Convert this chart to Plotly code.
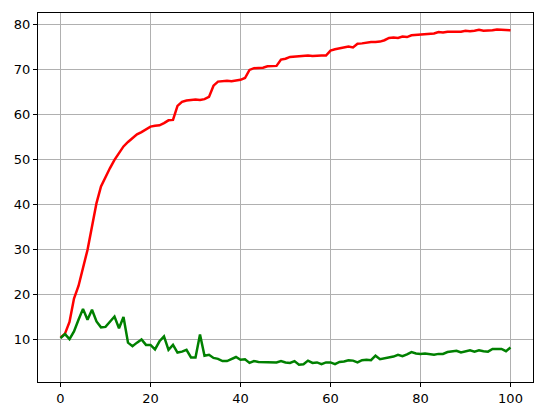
import plotly.graph_objects as go

steps = list(range(101))

red_values = [
    10.3, 11.2, 13.8, 19.0, 21.8, 25.8, 29.8, 35.0, 40.2, 43.9,
    46.1, 48.0, 49.8, 51.3, 52.8, 53.8, 54.6, 55.5, 56.0, 56.6,
    57.2, 57.4, 57.5, 58.0, 58.6, 58.7, 61.8, 62.7, 63.0, 63.1,
    63.2, 63.1, 63.3, 63.8, 66.3, 67.2, 67.3, 67.4, 67.3, 67.5,
    67.6, 68.0, 69.8, 70.2, 70.3, 70.3, 70.6, 70.6, 70.7, 72.1,
    72.3, 72.7, 72.8, 72.9, 73.0, 73.0, 72.9, 73.0, 73.0, 73.0,
    74.1, 74.4, 74.6, 74.8, 75.0, 74.8, 75.6, 75.7, 75.9, 76.0,
    76.0, 76.1, 76.4, 76.9, 77.0, 76.9, 77.2, 77.1, 77.5, 77.6,
    77.7, 77.8, 77.9, 77.9, 78.2, 78.1, 78.3, 78.3, 78.4, 78.3,
    78.5, 78.4, 78.5, 78.7, 78.5, 78.5, 78.6, 78.8, 78.7, 78.7,
    78.6,
]

green_values = [
    10.2, 11.1, 10.0, 11.7, 14.3, 16.7, 14.3, 16.5, 13.9, 12.6,
    12.7, 13.8, 15.0, 12.4, 14.9, 9.2, 8.4, 9.2, 9.9, 8.7,
    8.7, 7.7, 9.5, 10.6, 7.6, 8.7, 7.0, 7.2, 7.6, 5.9,
    5.9, 11.0, 6.3, 6.5, 5.8, 5.6, 5.1, 5.1, 5.6, 6.0,
    5.4, 5.5, 4.7, 5.1, 4.9, 4.9, 4.8, 4.8, 4.8, 5.1,
    4.8, 4.7, 5.1, 4.3, 4.4, 5.2, 4.7, 4.8, 4.4, 4.8,
    4.8, 4.4, 4.9, 5.0, 5.3, 5.2, 4.8, 5.3, 5.4, 5.3,
    6.3, 5.5, 5.7, 5.9, 6.1, 6.5, 6.2, 6.6, 7.1, 6.8,
    6.7, 6.8, 6.6, 6.5, 6.7, 6.7, 7.1, 7.2, 7.4, 7.0,
    7.3, 7.5, 7.2, 7.5, 7.3, 7.2, 7.8, 7.8, 7.8, 7.3,
    8.1,
]

x_ticks = [0, 20, 40, 60, 80, 100]
y_ticks = [10, 20, 30, 40, 50, 60, 70, 80]

FONT = "DejaVu Sans"

fig = go.Figure()
fig.add_trace(go.Scatter(x=steps, y=red_values, mode="lines",
                         line=dict(color="#ff0000", width=2.5)))
fig.add_trace(go.Scatter(x=steps, y=green_values, mode="lines",
                         line=dict(color="#008000", width=2.5)))

# matplotlib-like frame: box on all sides, outward ticks, grey grid
axis_style = dict(
    showgrid=True, gridcolor="#b0b0b0", gridwidth=1,
    zeroline=False, showline=True, linecolor="black", linewidth=1,
    mirror=True, ticks="outside", ticklen=4, tickcolor="black",
    tickfont=dict(family=FONT, size=13, color="black"),
    automargin=False,
)

# page body has an 8px margin, so the figure is sized to fit inside it
fig.update_layout(
    width=530, height=400,
    margin=dict(l=30, r=5, t=5, b=26, autoexpand=False),
    plot_bgcolor="white", paper_bgcolor="white",
    showlegend=False,
    xaxis=dict(range=[-5, 105], tickvals=x_ticks, **axis_style),
    yaxis=dict(range=[0.45, 82.45], tickvals=y_ticks, **axis_style),
)

fig.write_html("out.html")
